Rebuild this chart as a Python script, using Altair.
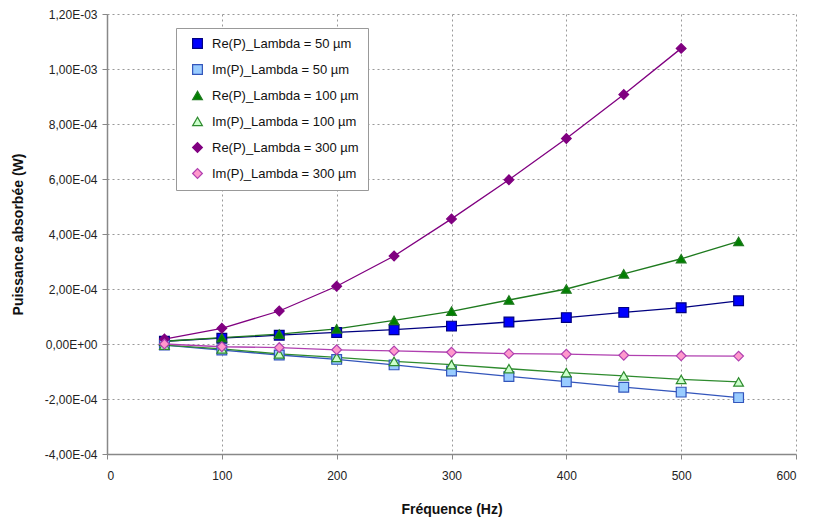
import altair as alt
import pandas as pd

freq = [50, 100, 150, 200, 250, 300, 350, 400, 450, 500, 550]

re_50 = [1.0e-5, 2.1e-5, 3.2e-5, 4.2e-5, 5.2e-5, 6.5e-5, 8.0e-5, 9.6e-5, 1.15e-4, 1.32e-4, 1.57e-4]
im_50 = [-4e-6, -2.2e-5, -4.0e-5, -5.6e-5, -7.6e-5, -9.8e-5, -1.18e-4, -1.37e-4, -1.57e-4, -1.75e-4, -1.95e-4]
re_100 = [1.0e-5, 2.3e-5, 3.6e-5, 5.5e-5, 8.6e-5, 1.19e-4, 1.6e-4, 2.0e-4, 2.55e-4, 3.1e-4, 3.73e-4]
im_100 = [-4e-6, -1.8e-5, -3.6e-5, -4.9e-5, -6.3e-5, -7.5e-5, -9.0e-5, -1.04e-4, -1.16e-4, -1.29e-4, -1.38e-4]
re_300 = [1.8e-5, 5.7e-5, 1.2e-4, 2.1e-4, 3.2e-4, 4.55e-4, 5.97e-4, 7.47e-4, 9.07e-4, 1.075e-3, None]
im_300 = [0.0, -1.0e-5, -1.3e-5, -2.1e-5, -2.5e-5, -3.0e-5, -3.5e-5, -3.7e-5, -4.1e-5, -4.3e-5, -4.4e-5]

series_names = [
    "Re(P)_Lambda = 50 µm",
    "Im(P)_Lambda = 50 µm",
    "Re(P)_Lambda = 100 µm",
    "Im(P)_Lambda = 100 µm",
    "Re(P)_Lambda = 300 µm",
    "Im(P)_Lambda = 300 µm",
]
series_values = [re_50, im_50, re_100, im_100, re_300, im_300]
shapes = ["square", "square", "triangle-up", "triangle-up", "diamond", "diamond"]
fills = ["#0000FF", "#99CCFF", "#008000", "#CCFFCC", "#800080", "#FF99CC"]
strokes = ["#000080", "#3355BB", "#1E7A1E", "#2E8B2E", "#800080", "#B040B0"]

x_ticks = [0, 100, 200, 300, 400, 500, 600]
y_ticks = [-4e-4, -2e-4, 0, 2e-4, 4e-4, 6e-4, 8e-4, 1e-3, 1.2e-3]

rows = []
for name, vals in zip(series_names, series_values):
    for f, v in zip(freq, vals):
        if v is not None:
            rows.append({"freq": f, "value": v, "series": name})
df = pd.DataFrame(rows)

v = "datum.value"
e = f"floor(log(abs({v}))/LN10 + 1e-9)"
label_expr = (
    f"{v} == 0 ? '0,00E+00' : "
    f"({v} < 0 ? '-' : '') + replace(format(abs({v})/pow(10, {e}), '.2f'), '.', ',') + 'E' + "
    f"({e} < 0 ? '-' : '+') + (abs({e}) < 10 ? '0' : '') + abs({e})"
)

font = "Liberation Sans"

x_enc = alt.X(
    "freq:Q",
    scale=alt.Scale(domain=[0, 600], nice=False, zero=False),
    axis=alt.Axis(
        values=x_ticks,
        title="Fréquence (Hz)",
        grid=True,
        gridDash=[2, 3],
        gridColor="#999999",
        labelPadding=11,
        titlePadding=21,
    ),
)
y_enc = alt.Y(
    "value:Q",
    scale=alt.Scale(domain=[-4e-4, 1.2e-3], nice=False, zero=False),
    axis=alt.Axis(
        values=y_ticks,
        labelExpr=label_expr,
        title="Puissance absorbée (W)",
        grid=True,
        gridDash=[2, 3],
        gridColor="#999999",
        labelPadding=5,
        titlePadding=19,
    ),
)

legend = alt.Legend(
    title=None,
    orient="none",
    legendX=69,
    legendY=14,
    labelFont=font,
    labelFontSize=13,
    labelColor="#111111",
    symbolSize=95,
    symbolStrokeWidth=1.2,
    rowPadding=11,
    padding=9,
    strokeColor="#999999",
    fillColor="white",
    labelOffset=8,
    symbolOffset=6,
)

stroke_scale = alt.Scale(domain=series_names, range=strokes)

lines = alt.Chart(df).mark_line(strokeWidth=1.3).encode(
    x=x_enc,
    y=y_enc,
    stroke=alt.Stroke("series:N", scale=stroke_scale, legend=legend),
)

points = alt.Chart(df).mark_point(filled=True, size=95, strokeWidth=1.2, opacity=1).encode(
    x=x_enc,
    y=y_enc,
    shape=alt.Shape("series:N", scale=alt.Scale(domain=series_names, range=shapes), legend=legend),
    fill=alt.Fill("series:N", scale=alt.Scale(domain=series_names, range=fills), legend=legend),
    stroke=alt.Stroke("series:N", scale=stroke_scale, legend=legend),
)

chart = (
    alt.layer(lines, points)
    .properties(
        width=689,
        height=440,
        autosize=alt.AutoSizeParams(type="none"),
        padding={"left": 99, "top": 6, "right": 9, "bottom": 66},
        background="white",
    )
    .configure_view(stroke=None)
    .configure_axis(
        labelFont=font,
        titleFont=font,
        labelFontSize=12,
        titleFontSize=14,
        titleFontWeight="bold",
        labelColor="#222222",
        titleColor="#111111",
        domainColor="#888888",
        tickColor="#888888",
        tickSize=5,
        domainWidth=1.5,
    )
)

chart.save("out.html", embed_options={"renderer": "svg", "actions": False})
